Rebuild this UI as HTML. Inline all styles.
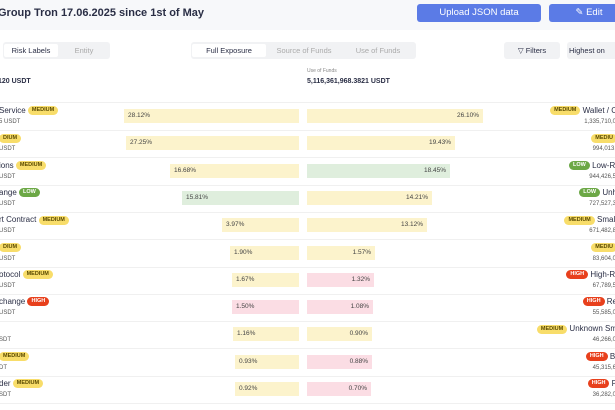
<!DOCTYPE html>
<html><head><meta charset="utf-8"><style>
*{margin:0;padding:0;box-sizing:border-box}
body{width:615px;height:410px;overflow:hidden;background:#fff;font-family:"Liberation Sans",sans-serif;color:#2a2e45;position:relative}
.a{position:absolute;white-space:nowrap}
.hdr{left:0;top:0;width:615px;height:30px;background:#f7f8fa}
.btn{background:#5b7be6;color:#fff;font-size:9.5px;border-radius:3px;text-align:center;line-height:18px;height:18px;top:4px}
.seg{background:#f1f2f4;border-radius:3px;height:17px;top:42px}
.seg span{position:absolute;top:2px;height:13px;line-height:13px;font-size:7.5px;color:#aaa;text-align:center}
.seg .on{background:#fff;color:#2a2e45;border-radius:2px}
.bar{height:14px;font-size:6.5px;line-height:14px;color:#444}
.y{background:#fcf3cc}.g{background:#dfeedd}.p{background:#fbdde4}
.b{font-size:5.5px;font-weight:bold;border-radius:6px;padding:0 4px;line-height:9px;height:9px;display:inline-block;vertical-align:middle}
.bm{background:#f8dd6a;color:#5a4a00}.bl{background:#6ca846;color:#fff}.bh{background:#e8401c;color:#fff}
.nm{font-size:8px}.vl{font-size:6px;color:#555}
.ln{left:0;width:615px;height:1px;background:#f0f0f0}
</style></head><body>
<div class="a hdr"></div>
<div class="a" style="left:-2px;top:7px;font-size:11px;font-weight:bold;color:#2a2e45">Group Tron 17.06.2025 since 1st of May</div>
<div class="a btn" style="left:417px;width:124px">Upload JSON data</div>
<div class="a btn" style="left:549px;width:80px">✎ Edit</div>
<div class="a seg" style="left:3px;width:107px"><span class="on" style="left:1px;width:54px">Risk Labels</span><span style="left:56px;width:50px">Entity</span></div>
<div class="a seg" style="left:191px;width:225px"><span class="on" style="left:1px;width:74px">Full Exposure</span><span style="left:76px;width:74px">Source of Funds</span><span style="left:150px;width:74px">Use of Funds</span></div>
<div class="a seg" style="left:504px;width:56px"><span style="left:0;width:56px;color:#2a2e45">▽ Filters</span></div>
<div class="a seg" style="left:567px;width:60px"><span style="left:2px;width:60px;color:#2a2e45;text-align:left">Highest on</span></div>
<div class="a" style="left:-2px;top:78px;font-size:7px;font-weight:bold">120 USDT</div>
<div class="a" style="left:307px;top:68px;font-size:5px;color:#888">Use of Funds</div>
<div class="a" style="left:307px;top:78px;font-size:7px;font-weight:bold">5,116,361,968.3821 USDT</div>
<div class="a ln" style="top:102px"></div>
<div id="rows"></div>
<script>
const R=[
["Service","bm","MEDIUM","5 USDT",124,"y","28.12%",483,"y","26.10%","MEDIUM","bm","Wallet / C","1,335,710,0"],
["","bm","DIUM","USDT",126,"y","27.25%",455,"y","19.43%","MEDIU","bm","","994,013,"],
["ions","bm","MEDIUM","USDT",170,"y","16.68%",450,"g","18.45%","LOW","bl","Low-Ri","944,426,5"],
["ange","bl","LOW","USDT",182,"g","15.81%",432,"y","14.21%","LOW","bl","Unh","727,527,3"],
["rt Contract","bm","MEDIUM","USDT",222,"y","3.97%",427,"y","13.12%","MEDIUM","bm","Small","671,482,8"],
["","bm","DIUM","USDT",230,"y","1.90%",375,"y","1.57%","MEDIU","bm","","83,604,0"],
["otocol","bm","MEDIUM","USDT",232,"y","1.67%",374,"p","1.32%","HIGH","bh","High-Ri","67,789,5"],
["change","bh","HIGH","USDT",232,"p","1.50%",373,"p","1.08%","HIGH","bh","Re","55,585,0"],
["","","","SDT",233,"y","1.16%",372,"y","0.90%","MEDIUM","bm","Unknown Sm","46,266,0"],
["","bm","MEDIUM","DT",235,"y","0.93%",372,"p","0.88%","HIGH","bh","Bi","45,315,6"],
["der","bm","MEDIUM","SDT",235,"y","0.92%",371,"p","0.70%","HIGH","bh","P","36,282,0"]];
let h="";
R.forEach((r,i)=>{const c=116+i*27.3;
h+=`<div class="a nm" style="left:-1px;top:${c-10}px">${r[0]} ${r[2]?`<span class="b ${r[1]}">${r[2]}</span>`:""}</div>`;
h+=`<div class="a vl" style="left:-1px;top:${c+3}px">${r[3]}</div>`;
h+=`<div class="a bar ${r[5]}" style="left:${r[4]}px;width:${299-r[4]}px;top:${c-7}px;padding-left:4px">${r[6]}</div>`;
h+=`<div class="a bar ${r[8]}" style="left:307px;width:${r[7]-307}px;top:${c-7}px;text-align:right;padding-right:4px">${r[9]}</div>`;
h+=`<div class="a nm" style="right:-2px;top:${c-10}px;text-align:right"><span class="b ${r[11]}">${r[10]}</span> ${r[12]}</div>`;
h+=`<div class="a vl" style="right:-1px;top:${c+3}px">${r[13]}</div>`;
h+=`<div class="a ln" style="top:${c+14}px"></div>`;});
document.getElementById("rows").innerHTML=h;
</script>
</body></html>
